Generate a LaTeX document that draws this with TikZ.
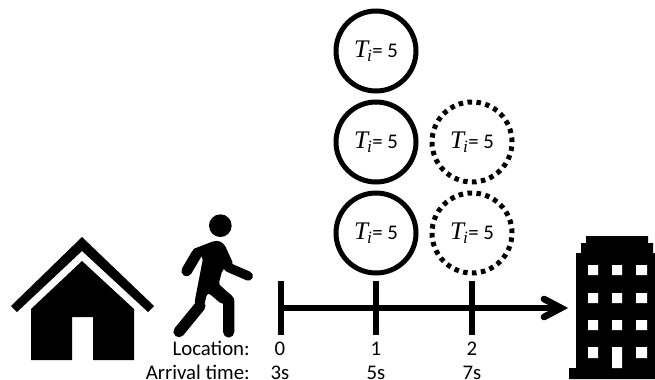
\documentclass[tikz,border=0pt]{standalone}
\usepackage{fontspec}
\setmainfont{Carlito}
\newfontfamily\mathserif{Liberation Serif}
\usetikzlibrary{arrows.meta}
\newcommand{\tival}{{\mathserif\itshape\fontsize{19}{19}\selectfont T\kern-0.8pt\raisebox{-3pt}{\fontsize{13}{13}\selectfont i}}\kern0.2pt= 5}
\tikzset{
  x=0.75pt,y=-0.75pt,
  ticknode/.style={circle,minimum size=80*0.75pt,inner sep=0pt,outer sep=0pt,line width=3.75pt,draw=black,font=\fontsize{15.6}{17}\selectfont},
  dotnode/.style={ticknode,dash pattern=on 3.4pt off 3.33pt},
  axisline/.style={line width=4pt,draw=black},
  lab/.style={font=\fontsize{15.6}{17}\selectfont,inner sep=0pt,text=black},
}
\begin{document}
\begin{tikzpicture}
\useasboundingbox (0,0) rectangle (655,379);
\clip (0,0) rectangle (655,379);
% circles
\node[ticknode] (a1) at (376,51) {\tival};
\node[ticknode] (a2) at (376,142) {\tival};
\node[ticknode] (a3) at (376,233) {\tival};
\node[dotnode] (b2) at (472,142) {\tival};
\node[dotnode] (b3) at (472,233) {\tival};
% axis
\coordinate (t0) at (281,308);
\coordinate (t1) at (376,308);
\coordinate (t2) at (472,308);
\coordinate (tip) at (561,308);
\coordinate (t0u) at (281,281); \coordinate (t0d) at (281,335);
\coordinate (t1u) at (376,281); \coordinate (t1d) at (376,335);
\coordinate (t2u) at (472,281); \coordinate (t2d) at (472,335);
\coordinate (hu) at (544,299); \coordinate (hd) at (544,317);
\draw[axisline] (t0) -- (tip);
\draw[axisline] (t0u) -- (t0d);
\draw[axisline] (t1u) -- (t1d);
\draw[axisline] (t2u) -- (t2d);
\draw[axisline,line width=5pt,line cap=round,line join=miter] (hu) -- (tip) -- (hd);
% labels
\node[lab,anchor=base east] (loc) at (250,355) {Location:};
\node[lab,anchor=base east] (arr) at (250,379) {Arrival time:};
\node[lab,anchor=base] (l0) at (280,355) {0};
\node[lab,anchor=base] (l1) at (376,355) {1};
\node[lab,anchor=base] (l2) at (472,355) {2};
\node[lab,anchor=base] (s0) at (280,379) {3s};
\node[lab,anchor=base] (s1) at (376,379) {5s};
\node[lab,anchor=base] (s2) at (472,379) {7s};
% house
\fill[black] (11,306) -- (82,237) -- (154,306) -- (148,312) -- (82,251) -- (17,312) -- cycle;
\fill[black] (82,261) -- (31,309) -- (31,360) -- (72,360) -- (72,317) -- (93,317) -- (93,360) -- (134,360) -- (134,309) -- cycle;
% walker
\begin{scope}[x=0.25pt,y=-0.25pt,yshift=-142.5pt]
\fill[black] (661,107) circle (34);
\fill[black,rounded corners=3pt] (572,180) -- (650,150) -- (672,160) -- (702,226) -- (668,236) -- (655,286) -- (703,322) -- (668,345) -- (622,306) -- (612,350) -- (582,345) -- (610,200) -- cycle;
\draw[black,line width=8pt,line cap=round,line join=round] (590,192) -- (560,243);
\draw[black,line width=7pt,line cap=round,line join=round] (685,232) -- (745,258);
\draw[black,line width=8.4pt,line cap=round,line join=round] (600,348) -- (537,425);
\draw[black,line width=8.4pt,line cap=round,line join=round] (640,290) -- (686,332) -- (686,426);
\end{scope}
% building
\fill[black] (586,236) -- (648,236) -- (648,243) -- (653,243) -- (653,253) -- (655,253) -- (655,379) -- (569,379) -- (569,368) -- (576,368) -- (576,253) -- (581,253) -- (581,243) -- (586,243) -- cycle;
\fill[white] (588,265) rectangle (598,275) (612,265) rectangle (622,275) (636,265) rectangle (647,275)
 (588,293) rectangle (598,303) (612,293) rectangle (622,303) (636,293) rectangle (647,303)
 (588,320) rectangle (598,330) (612,320) rectangle (622,330) (636,320) rectangle (647,330)
 (588,347) rectangle (598,358) (612,347) rectangle (622,368) (636,347) rectangle (647,358);
\end{tikzpicture}
\end{document}
